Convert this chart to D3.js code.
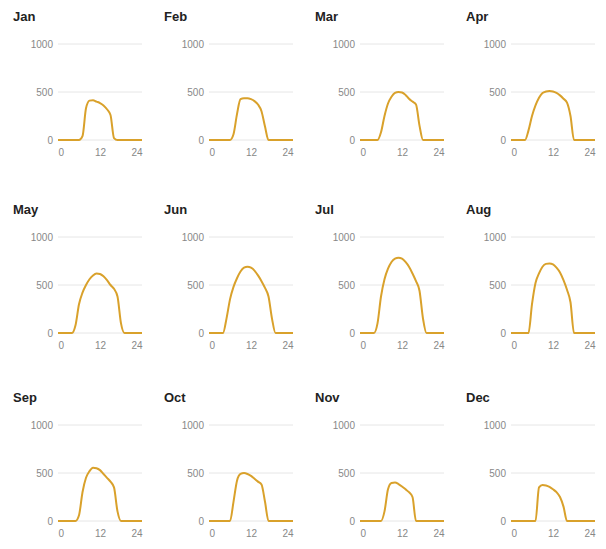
<!DOCTYPE html>
<html><head><meta charset="utf-8">
<script src="https://cdn.jsdelivr.net/npm/d3@7"></script>
<style>body{margin:0;background:#fff}</style>
</head><body>
<script>
const months = ["Jan","Feb","Mar","Apr","May","Jun","Jul","Aug","Sep","Oct","Nov","Dec"];
const hours = d3.range(0,25);
const xTicks = [0,12,24];
const yTicks = [0,500,1000];
// hourly irradiance per month (hours 0..24)
const jan = [0,0,0,0,0,0,0,40,330,410,415,400,385,360,320,260,20,0,0,0,0,0,0,0,0];
const feb = [0,0,0,0,0,0,0,60,270,425,435,435,425,405,370,300,140,0,0,0,0,0,0,0,0];
const mar = [0,0,0,0,0,0,80,250,380,450,490,500,495,470,430,400,370,150,0,0,0,0,0,0,0];
const apr = [0,0,0,0,0,100,250,360,440,490,505,510,505,490,465,430,390,250,0,0,0,0,0,0,0];
const may = [0,0,0,0,0,80,300,420,500,560,600,620,615,590,550,500,460,380,100,0,0,0,0,0,0];
const jun = [0,0,0,0,0,150,350,480,570,640,680,690,680,650,600,540,470,380,150,0,0,0,0,0,0];
const jul = [0,0,0,0,0,100,380,560,670,740,775,785,775,740,690,620,540,440,150,0,0,0,0,0,0];
const aug = [0,0,0,0,0,0,300,520,620,690,720,725,715,680,630,550,450,320,0,0,0,0,0,0,0];
const sep = [0,0,0,0,0,0,60,300,450,520,555,550,530,490,450,410,350,100,0,0,0,0,0,0,0];
const oct = [0,0,0,0,0,0,0,200,420,490,500,490,470,440,410,380,200,0,0,0,0,0,0,0,0];
const nov = [0,0,0,0,0,0,0,100,330,395,400,385,360,330,300,250,0,0,0,0,0,0,0,0,0];
const dec = [0,0,0,0,0,0,0,0,350,375,370,355,330,300,250,150,0,0,0,0,0,0,0,0,0];
const series = [jan,feb,mar,apr,may,jun,jul,aug,sep,oct,nov,dec];

const W=606,H=549;
const colX=[58,209,360,511], rowY=[44,237,425];
const pw=84, ph=96;
const svg=d3.select("body").append("svg").attr("width",W).attr("height",H)
  .style("font-family","'Liberation Sans', Arial, sans-serif");

months.forEach((m,i)=>{
  const c=i%4, r=Math.floor(i/4);
  const g=svg.append("g").attr("transform",`translate(${colX[c]},${rowY[r]})`);
  const x=d3.scaleLinear().domain([0,24]).range([0,pw]);
  const y=d3.scaleLinear().domain([0,1000]).range([ph,0]);
  g.selectAll(".grid").data(yTicks).join("line")
    .attr("x1",0).attr("x2",pw).attr("y1",d=>y(d)).attr("y2",d=>y(d))
    .attr("stroke","#e6e6e6").attr("stroke-width",1);
  const ya=g.append("g").call(d3.axisLeft(y).tickValues(yTicks).tickFormat(d3.format("d")).tickSize(0).tickPadding(5));
  ya.select(".domain").remove();
  ya.selectAll("text").attr("fill","#888").style("font-size","10px").style("font-family","inherit");
  const xa=g.append("g").attr("transform",`translate(0,${ph})`)
    .call(d3.axisBottom(x).tickValues(xTicks).tickFormat(d3.format("d")).tickSize(0).tickPadding(9));
  xa.select(".domain").remove();
  xa.selectAll("text").attr("fill","#888").style("font-size","10px").style("font-family","inherit")
    .attr("text-anchor",(d,j)=> j===0?"start":(j===xTicks.length-1?"end":"middle"));
  const line=d3.line().x((d,j)=>x(hours[j])).y(d=>y(d)).curve(d3.curveMonotoneX);
  g.append("path").datum(series[i]).attr("d",line)
    .attr("fill","none").attr("stroke","#d9a12b").attr("stroke-width",2).attr("stroke-linejoin","round");
  svg.append("text").attr("x",colX[c]-45).attr("y",rowY[r]-23)
    .text(m).attr("font-weight","bold").attr("font-size","13px").attr("fill","#222");
});
</script>
</body></html>
